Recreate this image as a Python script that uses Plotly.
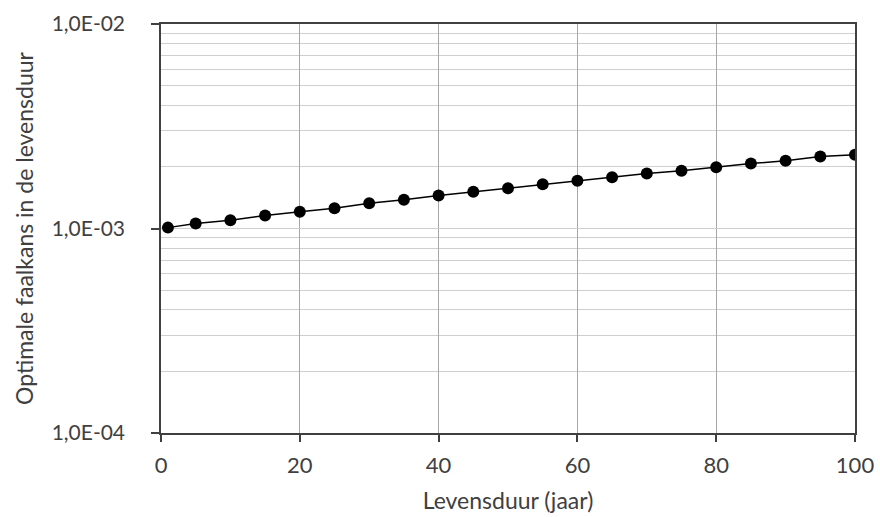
import plotly.graph_objects as go

levensduur = [1, 5, 10, 15, 20, 25, 30, 35, 40, 45, 50, 55, 60, 65, 70, 75, 80, 85, 90, 95, 100]
faalkans = [1.01e-3, 1.058e-3, 1.098e-3, 1.158e-3, 1.207e-3, 1.257e-3, 1.330e-3, 1.381e-3,
            1.450e-3, 1.512e-3, 1.573e-3, 1.647e-3, 1.712e-3, 1.782e-3, 1.857e-3, 1.915e-3,
            1.994e-3, 2.079e-3, 2.143e-3, 2.249e-3, 2.293e-3]

y_tickvals = [1e-4, 1e-3, 1e-2]
y_ticktext = ["1,0E-04", "1,0E-03", "1,0E-02"]
y_minor = [m * d for d in (1e-4, 1e-3) for m in range(2, 10)]
x_tickvals = [0, 20, 40, 60, 80, 100]

FONT = "Lato"
FS = 22
TXT = "#404040"

fig = go.Figure()
fig.add_trace(go.Scatter(
    x=levensduur, y=faalkans, mode="lines+markers",
    line=dict(color="#000000", width=1.5),
    marker=dict(color="#000000", size=12),
    showlegend=False,
))

fig.update_layout(
    width=880, height=517,
    margin=dict(l=161, r=25, t=24, b=84, autoexpand=False),
    paper_bgcolor="white", plot_bgcolor="white",
    font=dict(family=FONT, size=FS, color=TXT),
)

fig.update_xaxes(
    range=[0, 100], tickvals=x_tickvals,
    showgrid=True, gridcolor="#a6a6a6", gridwidth=1,
    showline=True, linecolor="#404040", linewidth=1.5, mirror=True,
    ticks="outside", ticklen=7, tickcolor="#404040", tickwidth=1.5,
    ticklabelstandoff=5,
    tickfont=dict(family=FONT, size=FS, color=TXT),
    title=dict(text="Levensduur (jaar)", font=dict(family=FONT, size=23, color=TXT), standoff=16),
    zeroline=False, automargin=False,
)

fig.update_yaxes(
    type="log", range=[-4, -2],
    tickvals=y_tickvals, ticktext=y_ticktext,
    showgrid=True, gridcolor="#cfcfcf", gridwidth=1,
    minor=dict(tickvals=y_minor, showgrid=True, gridcolor="#cfcfcf", gridwidth=1, ticklen=0),
    showline=True, linecolor="#404040", linewidth=1.5, mirror=True,
    ticks="outside", ticklen=8, tickcolor="#404040", tickwidth=1.5,
    ticklabelstandoff=22,
    tickfont=dict(family=FONT, size=21, color=TXT),
    title=dict(text="Optimale faalkans in de levensduur", font=dict(family=FONT, size=23, color=TXT), standoff=12),
    zeroline=False, automargin=False,
)

fig.write_html("out.html", config={"displayModeBar": False},
               post_script="document.body.style.margin='0';")
